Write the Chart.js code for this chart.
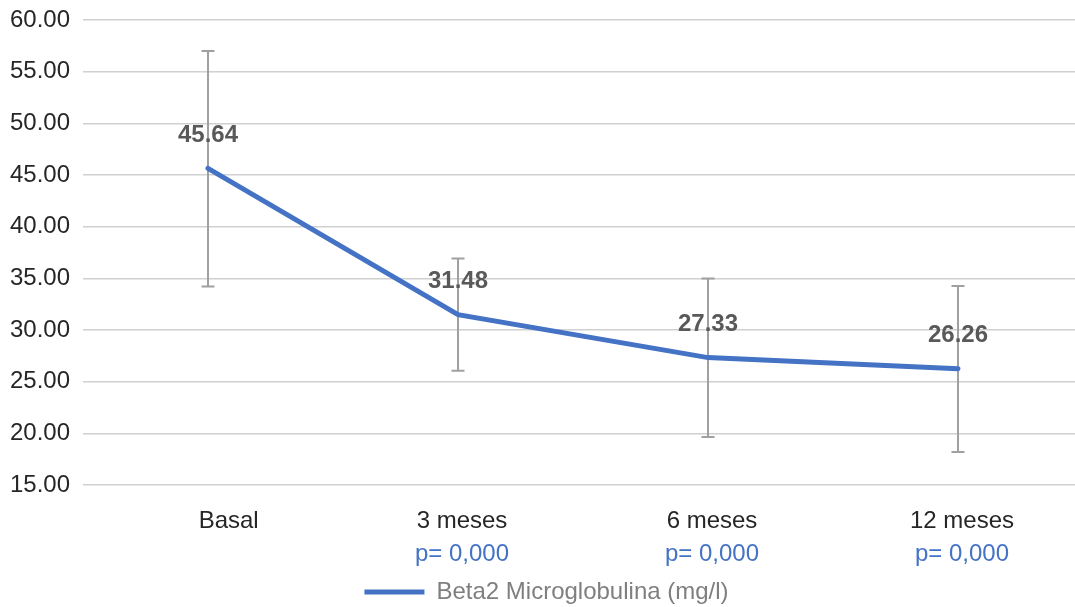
<!DOCTYPE html>
<html>
<head>
<meta charset="utf-8">
<style>
  html, body { margin: 0; padding: 0; background: #fff; overflow: hidden; }
  #wrap { width: 1083px; height: 614px; }
</style>
</head>
<body>
<div id="wrap"><canvas id="chart" width="1083" height="614"></canvas></div>
<script src="https://cdn.jsdelivr.net/npm/chart.js"></script>
<script>
// data
const categories = ['Basal', '3 meses', '6 meses', '12 meses'];
const pLabels = ['', 'p= 0,000', 'p= 0,000', 'p= 0,000'];
const means = [45.64, 31.48, 27.33, 26.26];
const errLow = [34.2, 26.05, 19.65, 18.2];
const errHigh = [57.0, 36.92, 34.98, 34.26];
const yMin = 15, yMax = 60, yStep = 5;

const FONT = "'Liberation Sans', Arial, sans-serif";

// error bars, drawn behind the line
const errorBars = {
  id: 'errorBars',
  beforeDatasetsDraw(chart) {
    const ctx = chart.ctx;
    const x = chart.scales.x, y = chart.scales.y;
    ctx.save();
    ctx.strokeStyle = '#a0a0a0';
    ctx.lineWidth = 2;
    for (let i = 0; i < categories.length; i++) {
      const px = x.getPixelForValue(i);
      const top = y.getPixelForValue(errHigh[i]);
      const bot = y.getPixelForValue(errLow[i]);
      ctx.beginPath();
      ctx.moveTo(px, top); ctx.lineTo(px, bot);
      ctx.moveTo(px - 6.5, top); ctx.lineTo(px + 6.5, top);
      ctx.moveTo(px - 6.5, bot); ctx.lineTo(px + 6.5, bot);
      ctx.stroke();
    }
    ctx.restore();
  }
};

// value labels above each point
const valueLabels = {
  id: 'valueLabels',
  afterDatasetsDraw(chart) {
    const ctx = chart.ctx;
    const meta = chart.getDatasetMeta(0);
    ctx.save();
    ctx.font = 'bold 24px ' + FONT;
    ctx.fillStyle = '#595959';
    ctx.textAlign = 'center';
    ctx.textBaseline = 'middle';
    meta.data.forEach((pt, i) => {
      ctx.fillText(means[i].toFixed(2), pt.x, pt.y - 33);
    });
    ctx.restore();
  }
};

new Chart(document.getElementById('chart'), {
  type: 'line',
  data: {
    labels: categories,
    datasets: [{
      label: 'Beta2 Microglobulina (mg/l)',
      data: means,
      borderColor: '#4472C4',
      backgroundColor: '#4472C4',
      borderWidth: 5,
      pointRadius: 0,
      tension: 0,
      borderCapStyle: 'round',
      xAxisID: 'x',
      yAxisID: 'y'
    }]
  },
  options: {
    responsive: false,
    animation: false,
    layout: { padding: { top: 0, left: 10, right: 0, bottom: 0 } },
    scales: {
      y: {
        min: yMin, max: yMax,
        afterFit: s => { s.width = 73; s.paddingTop = 20; },
        ticks: {
          stepSize: yStep,
          padding: 13,
          color: '#262626',
          font: { family: FONT, size: 24 },
          callback: v => Number(v).toFixed(2)
        },
        grid: { color: '#d0d0d0', lineWidth: 1.5, drawTicks: false },
        border: { display: false }
      },
      x: {
        offset: true,
        afterFit: s => { s.height = 52; },
        ticks: {
          padding: 22,
          labelOffset: 4,
          color: '#262626',
          font: { family: FONT, size: 24 },
          // the first label sits a little right of its point in the original
          callback: (v, i) => (i === 0 ? '     ' : '') + categories[i]
        },
        grid: { display: false, drawTicks: false },
        border: { display: false }
      },
      x2: {
        type: 'category',
        labels: pLabels,
        position: 'bottom',
        offset: true,
        afterFit: s => { s.height = 43; },
        ticks: {
          padding: 3,
          labelOffset: 4,
          color: '#4472C4',
          font: { family: FONT, size: 24 },
          autoSkip: false
        },
        grid: { display: false, drawTicks: false },
        border: { display: false }
      }
    },
    plugins: {
      legend: {
        position: 'bottom',
        labels: {
          font: { family: FONT, size: 24 },
          boxWidth: 60,
          boxHeight: 5,
          padding: 0,
          generateLabels: chart => [{
            text: chart.data.datasets[0].label,
            fillStyle: '#4472C4',
            strokeStyle: '#4472C4',
            fontColor: '#7f7f7f',
            lineWidth: 0,
            datasetIndex: 0
          }]
        }
      },
      tooltip: { enabled: false }
    }
  },
  plugins: [errorBars, valueLabels]
});
</script>
</body>
</html>
